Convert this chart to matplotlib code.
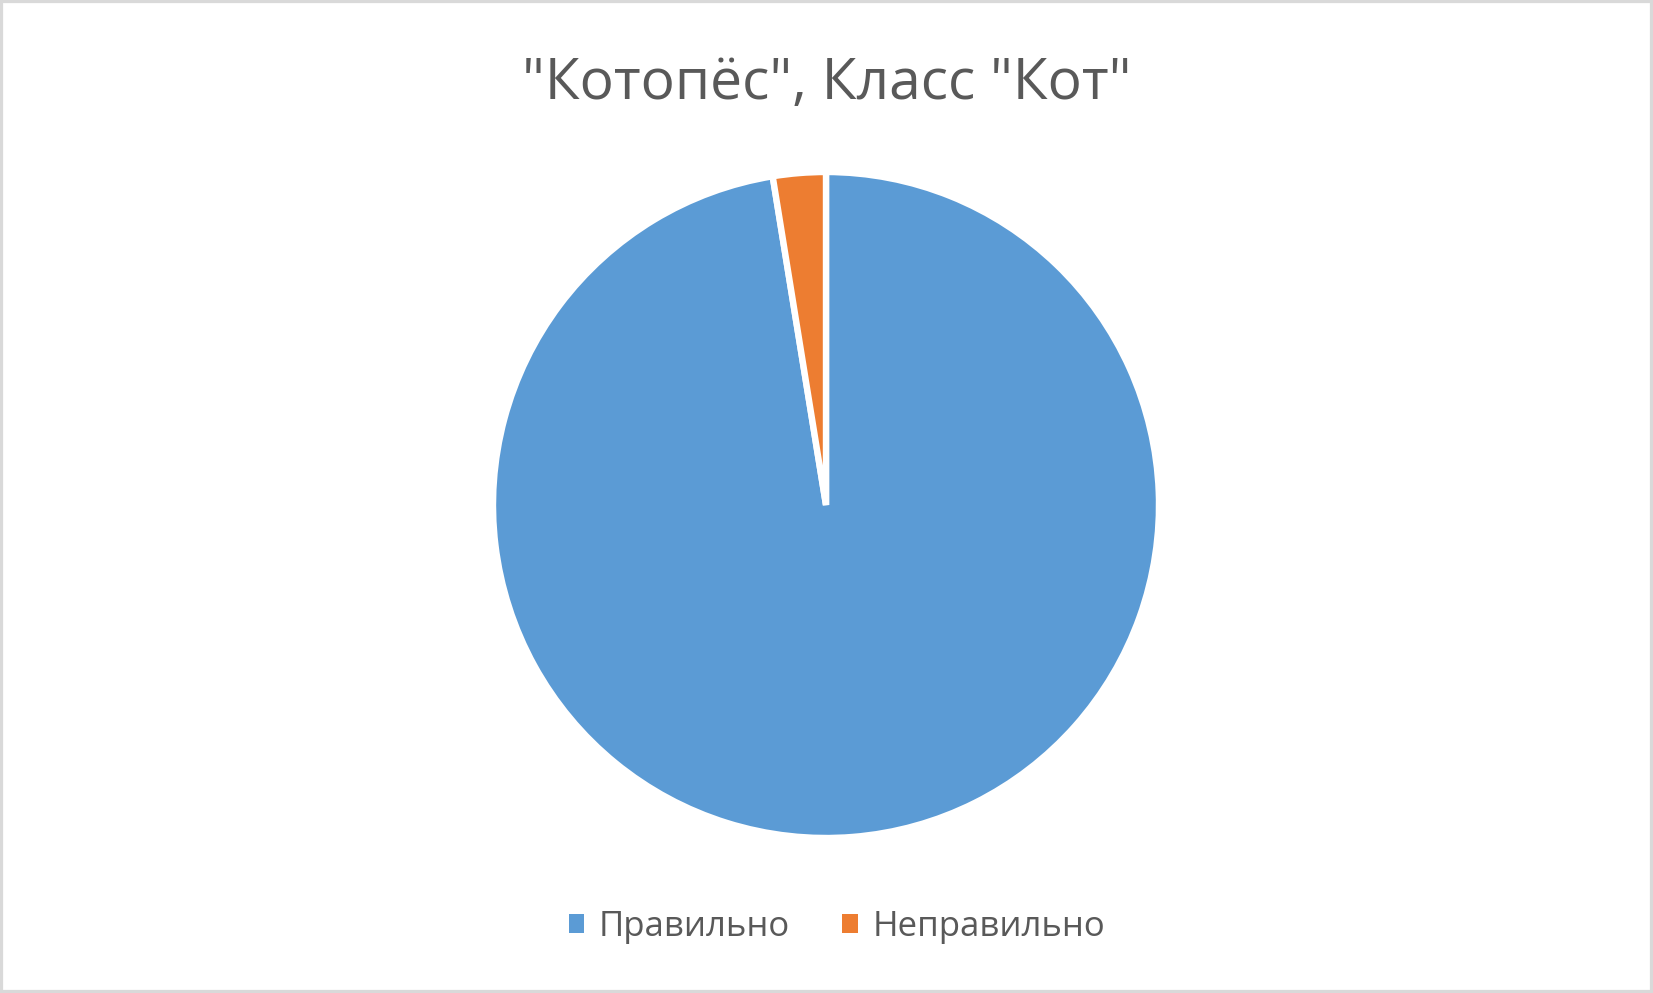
import matplotlib
matplotlib.use("Agg")
import matplotlib.pyplot as plt
from matplotlib.patches import Rectangle, Patch

labels = ["Правильно", "Неправильно"]
values = [97.44, 2.56]
colors = ["#5B9BD5", "#ED7D31"]
title = "\"Котопёс\", Класс \"Кот\""

plt.rcParams['font.family'] = ['Open Sans', 'DejaVu Sans']

W, H = 1653, 993
fig = plt.figure(figsize=(W / 100, H / 100), dpi=100)
fig.patch.set_facecolor("white")

cx, cy, r = 826, 505, 333
ax = fig.add_axes([(cx - r) / W, (H - cy - r) / H, 2 * r / W, 2 * r / H])
ax.pie(values, colors=colors, startangle=90, counterclock=False,
       wedgeprops=dict(edgecolor="white", linewidth=4.6), radius=1.0)
ax.set_xlim(-1, 1)
ax.set_ylim(-1, 1)
ax.set_aspect("equal")
ax.axis("off")

fig.text(0.5, 1 - 85 / H, title, ha="center", va="center",
         fontsize=41, color="#595959")

handles = [Patch(facecolor=c, edgecolor="none") for c in colors]
fig.legend(handles, labels, loc="center",
           bbox_to_anchor=(0.5 + 10.5 / W, 1 - 927 / H),
           ncol=2, frameon=False, fontsize=25, labelcolor="#595959",
           handlelength=0.45, handleheight=0.45, handletextpad=0.42,
           columnspacing=1.5)

fig.patches.append(Rectangle((0, 0), 1, 1, transform=fig.transFigure,
                             fill=False, edgecolor="#D9D9D9", linewidth=4.5))

fig.savefig("out.png", dpi=100)
